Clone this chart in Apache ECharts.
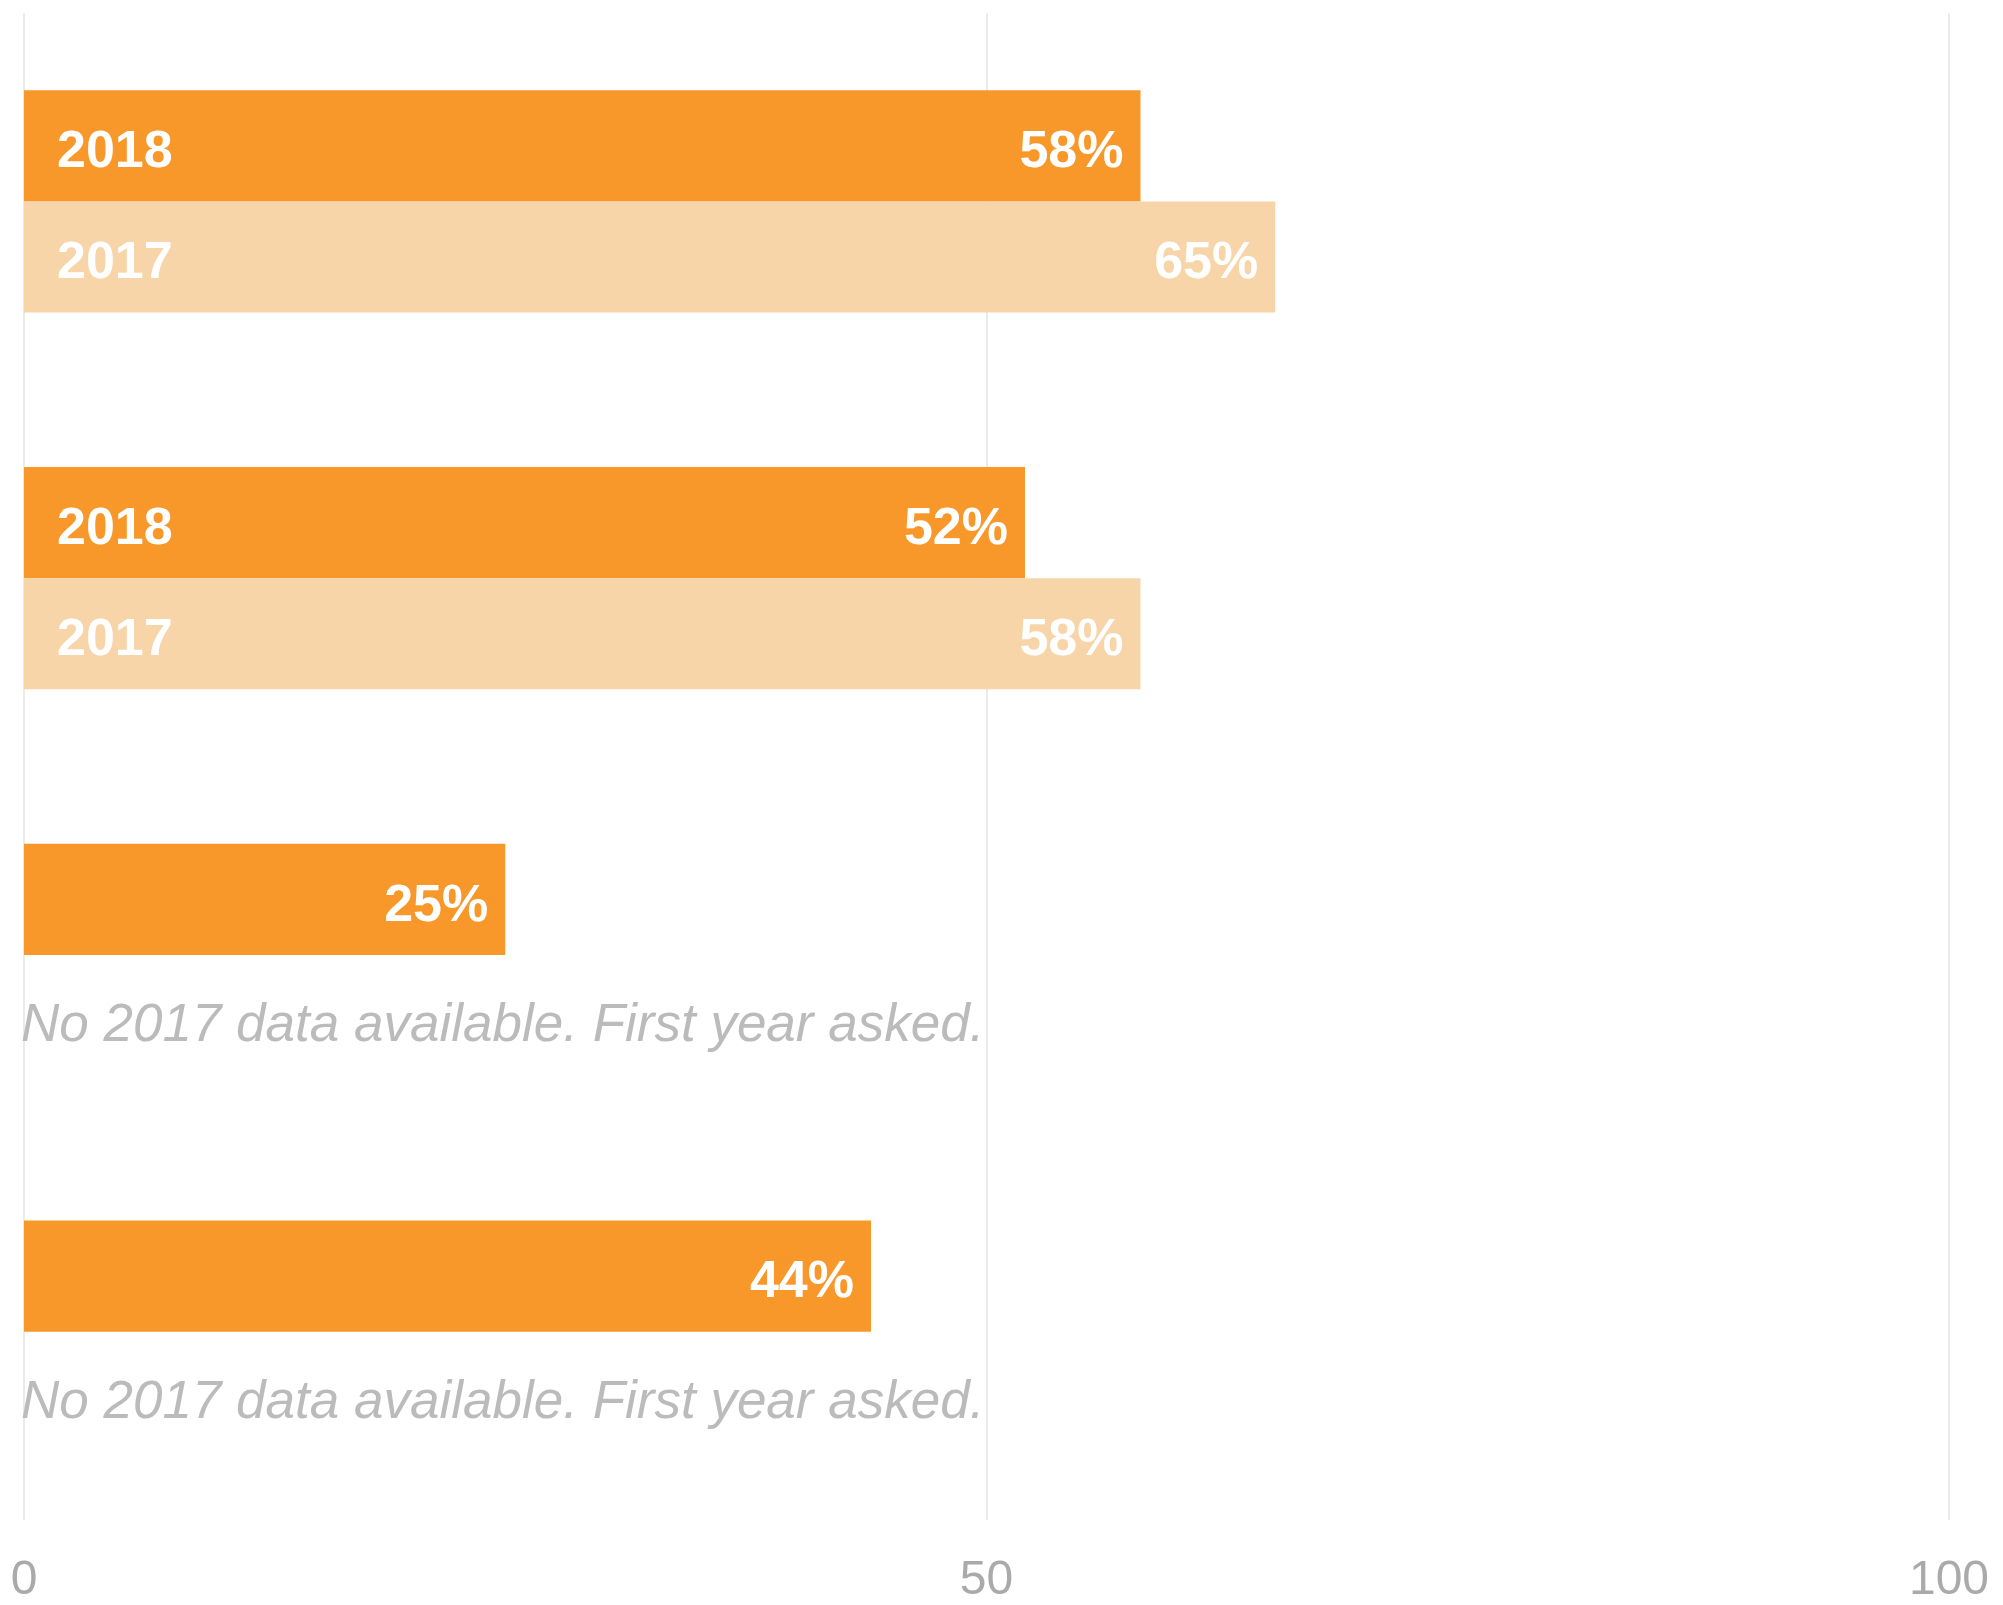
<!DOCTYPE html>
<html>
<head>
<meta charset="utf-8">
<script src="https://cdn.jsdelivr.net/npm/echarts@6/dist/echarts.min.js"></script>
<style>
html,body{margin:0;padding:0;background:#fff;}
#chart{width:2003px;height:1605px;}
</style>
</head>
<body>
<div id="chart"></div>
<script>
var categories = ['Group A', 'Group B', 'Group C', 'Group D'];
var values2018 = [58, 52, 25, 44];
var values2017 = [65, 58, null, null];
var seriesNames = ['2018', '2017'];
var noteText = 'No 2017 data available. First year asked.';
var xTicks = [0, 50, 100];

var colorNew = '#F8982A';
var colorOld = '#F7D5A9';
var FONT = 'Liberation Sans, Arial, sans-serif';

var valueLabel = {
  show: true, position: 'insideRight', distance: 17, offset: [0, 7],
  formatter: '{c}%', color: '#fff', fontSize: 52, fontWeight: 'bold',
  fontFamily: FONT
};
function yearLabel(name) {
  return {
    show: true, position: 'insideLeft', distance: 33, offset: [0, 7],
    formatter: name, color: '#fff', fontSize: 52, fontWeight: 'bold',
    fontFamily: FONT
  };
}
var noteLabel = {
  show: true, position: 'insideLeft', distance: 0, offset: [-3, 16],
  formatter: noteText, color: '#BBBBBB', fontSize: 53, fontStyle: 'italic',
  fontWeight: 'normal', fontFamily: FONT
};

// Year labels appear only where both years have data
var labelData2018 = values2018.map(function (v, i) {
  if (values2017[i] === null) return { value: v, label: { show: false } };
  return v;
});
var labelData2017 = values2017.map(function (v) {
  if (v === null) return { value: 0, label: noteLabel };
  return v;
});

var chart = echarts.init(document.getElementById('chart'));
chart.setOption({
  animation: false,
  backgroundColor: '#fff',
  grid: { left: 24, right: 54, top: 13, bottom: 82, containLabel: false },
  xAxis: {
    type: 'value', min: xTicks[0], max: xTicks[xTicks.length - 1], interval: 50,
    axisLine: { show: false }, axisTick: { show: false },
    splitLine: { show: true, lineStyle: { color: '#EBEBEB', width: 2 } },
    axisLabel: { color: '#AAAAAA', fontSize: 48, margin: 37, fontFamily: FONT }
  },
  yAxis: [
    { type: 'category', data: categories, inverse: true,
      axisLine: { show: false }, axisTick: { show: false }, axisLabel: { show: false } },
    { type: 'category', data: categories, inverse: true, position: 'left',
      axisLine: { show: false }, axisTick: { show: false }, axisLabel: { show: false } }
  ],
  series: [
    { name: seriesNames[0], type: 'bar', yAxisIndex: 0, data: values2018,
      barGap: 0, barCategoryGap: '41%', itemStyle: { color: colorNew },
      label: valueLabel, silent: true },
    { name: seriesNames[1], type: 'bar', yAxisIndex: 0, data: values2017,
      barGap: 0, barCategoryGap: '41%', itemStyle: { color: colorOld },
      label: valueLabel, silent: true },
    { name: seriesNames[0] + ' label', type: 'bar', yAxisIndex: 1, data: labelData2018,
      barGap: 0, barCategoryGap: '41%', itemStyle: { color: 'rgba(0,0,0,0)' },
      label: yearLabel(seriesNames[0]), silent: true, z: 5 },
    { name: seriesNames[1] + ' label', type: 'bar', yAxisIndex: 1, data: labelData2017,
      barGap: 0, barCategoryGap: '41%', itemStyle: { color: 'rgba(0,0,0,0)' },
      label: yearLabel(seriesNames[1]), silent: true, z: 5 }
  ]
});
</script>
</body>
</html>
